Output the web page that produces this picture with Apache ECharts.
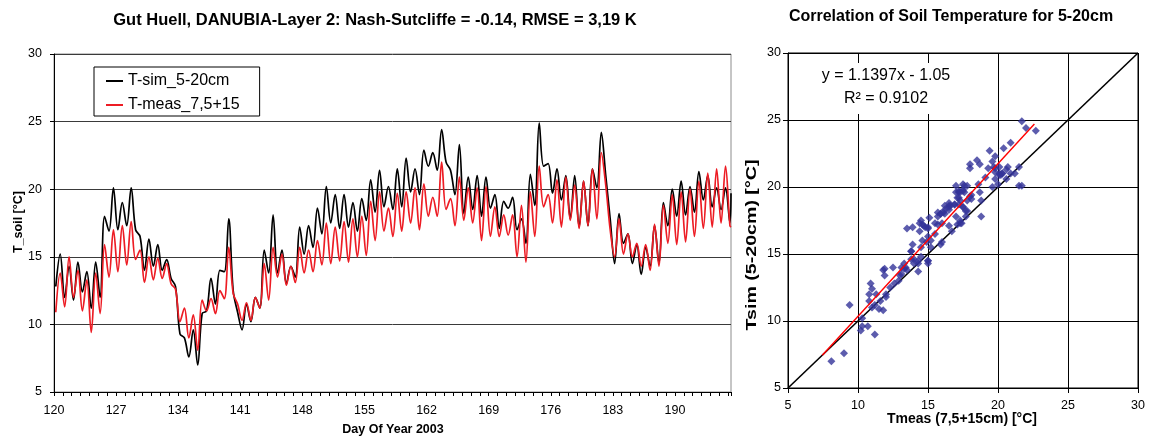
<!DOCTYPE html>
<html>
<head>
<meta charset="utf-8">
<title>Soil temperature Gut Huell 2003</title>
<script src="https://cdn.jsdelivr.net/npm/echarts@6/dist/echarts.min.js"></script>
<style>
  html, body { margin: 0; padding: 0; background: #fff; }
  #chart { width: 1150px; height: 438px; }
</style>
</head>
<body>
<div id="chart"></div>
<script>
// ---- data -------------------------------------------------------------
// Day-of-year axis, 2003
const firstDay = 120;
const lastDay = 196;
const axisEnd = 196.32;
const dayTicks = [120, 127, 134, 141, 148, 155, 162, 169, 176, 183, 190];

// Two readings per day: morning low (day + 0.2) and evening high (day + 0.7)
// Simulated soil temperature, 5-20 cm [°C]
const tSim = [
  12.8, 15.2, 12.0, 14.3, 11.8, 14.6, 12.4, 13.9, 11.2, 14.6, 12.0, 18.0, 16.9, 20.1,   // 120-126
  17.0, 19.0, 17.3, 20.1, 17.0, 16.5, 14.0, 16.3, 14.3, 15.9, 14.0, 14.8, 13.4, 12.8,   // 127-133
  9.3, 9.0, 7.6, 9.6, 7.0, 10.8, 11.0, 13.4, 11.5, 14.0, 13.9, 17.8, 12.5, 10.9,        // 134-140
  9.6, 11.5, 10.2, 12.0, 11.2, 15.5, 13.8, 18.1, 13.8, 15.5, 13.0, 14.3, 13.5, 17.2,    // 141-147
  15.2, 17.3, 15.7, 18.6, 16.7, 20.2, 17.5, 19.6, 17.1, 19.6, 17.2, 19.0, 16.9, 19.3,   // 148-154
  17.7, 20.7, 18.3, 21.4, 18.7, 20.2, 18.5, 21.5, 18.7, 22.3, 19.8, 21.5, 19.6, 22.9,   // 155-161
  21.7, 22.7, 21.4, 24.4, 22.0, 21.4, 19.6, 23.3, 18.2, 20.9, 18.5, 21.0, 18.0, 20.9,   // 162-168
  18.6, 19.6, 17.1, 19.1, 18.6, 19.4, 17.0, 17.8, 16.0, 21.1, 18.8, 24.9, 21.7, 21.9,   // 169-175
  19.7, 21.5, 19.2, 21.0, 17.8, 21.0, 17.2, 20.6, 17.3, 21.5, 20.1, 24.2, 21.0, 17.8,   // 176-182
  14.5, 18.2, 16.0, 16.7, 14.5, 15.9, 13.7, 15.7, 14.3, 17.3, 14.5, 19.0, 17.3, 20.0,   // 183-189
  18.0, 20.6, 18.1, 20.2, 18.3, 21.3, 19.2, 21.0, 18.7, 20.1, 18.5, 20.1, 17.5, 19.7    // 190-196
];
// Measured soil temperature, mean of 7.5 and 15 cm [°C]
const tMeas = [
  10.9, 13.8, 11.3, 15.0, 12.0, 14.0, 11.0, 13.3, 9.4, 13.8, 10.8, 15.9, 13.5, 17.0,    // 120-126
  13.9, 17.3, 14.4, 17.6, 14.8, 15.5, 13.1, 15.0, 13.3, 14.9, 13.4, 14.5, 13.0, 12.6,   // 127-133
  10.2, 11.2, 9.0, 10.7, 8.1, 11.8, 11.0, 11.9, 10.8, 12.5, 11.9, 15.7, 12.3, 11.5,     // 134-140
  10.3, 11.6, 10.3, 12.0, 11.2, 14.5, 11.8, 15.7, 13.5, 15.2, 12.9, 14.3, 13.1, 15.7,   // 141-147
  13.8, 15.5, 13.9, 16.2, 14.4, 17.5, 14.5, 17.2, 14.7, 17.6, 14.6, 17.8, 15.0, 18.0,   // 148-154
  15.1, 19.1, 16.2, 19.8, 16.9, 18.6, 16.5, 19.7, 16.9, 19.8, 17.5, 20.1, 17.0, 20.4,   // 155-161
  18.0, 19.4, 18.0, 22.0, 18.5, 19.3, 17.3, 20.9, 17.7, 20.1, 17.5, 20.1, 16.2, 20.2,   // 162-168
  16.5, 18.7, 16.5, 18.1, 16.6, 18.1, 15.0, 18.8, 14.6, 19.8, 16.5, 21.7, 18.7, 19.6,   // 169-175
  17.5, 20.7, 17.2, 20.9, 17.7, 20.3, 17.1, 20.6, 17.3, 21.5, 17.8, 22.7, 20.3, 17.0,   // 176-182
  15.0, 17.8, 15.2, 16.7, 15.0, 16.0, 14.3, 15.9, 14.0, 17.4, 14.3, 18.8, 16.0, 19.6,   // 183-189
  15.9, 19.8, 16.1, 20.0, 16.5, 20.6, 17.1, 21.2, 17.2, 21.5, 17.5, 21.7, 17.3, 17.2    // 190-196
];

// Linear fit of Tsim against Tmeas
const fitSlope = 1.1397;
const fitIntercept = -1.05;
const fitR2 = 0.9102;
const fitRange = [7.45, 22.6];
const oneToOne = [5, 30];
const tempTicks = [5, 10, 15, 20, 25, 30];

// ---- derived series ----------------------------------------------------
const sampleTimes = [];
for (let d = firstDay; d <= lastDay; d++) sampleTimes.push(d + 0.2, d + 0.7);
sampleTimes[sampleTimes.length - 1] = axisEnd;   // last reading sits on the right edge

const simLine = tSim.map((v, i) => [sampleTimes[i], v]);
const measLine = tMeas.map((v, i) => [sampleTimes[i], v]);
const pairs = tMeas.map((m, i) => [m, tSim[i]]);
const fitLine = fitRange.map(x => [x, fitSlope * x + fitIntercept]);
const diagLine = oneToOne.map(v => [v, v]);

const fmt = n => String(n);
const fitText = 'y = ' + fmt(fitSlope) + 'x ' + (fitIntercept < 0 ? '- ' : '+ ') + fmt(Math.abs(fitIntercept));
const r2Text = 'R\u00B2 = ' + fmt(fitR2);

// ---- chart -------------------------------------------------------------
const FONT = '"Liberation Sans", Arial, Helvetica, sans-serif';
const chart = echarts.init(document.getElementById('chart'), null, { renderer: 'canvas' });

const tempAxis = (gridIndex, color, labelMargin, tickLen) => ({
  type: 'value', gridIndex, min: tempTicks[0], max: tempTicks[tempTicks.length - 1], interval: 5,
  axisLine: { show: true, onZero: false, lineStyle: { color: '#000', width: 1 } },
  axisTick: { show: true, length: tickLen, lineStyle: { color: '#000' } },
  axisLabel: { color: '#000', fontFamily: FONT, fontSize: 12.5, margin: labelMargin },
  splitLine: { show: true, lineStyle: { color, width: 1 } }
});

chart.setOption({
  animation: false,
  backgroundColor: '#fff',
  grid: [
    { left: 54, top: 54, width: 677, height: 338, show: true, borderColor: '#8c8c8c', borderWidth: 1, backgroundColor: 'transparent' },
    { left: 788, top: 53, width: 350, height: 335, show: true, borderColor: '#000', borderWidth: 1, backgroundColor: 'transparent' }
  ],
  legend: {
    orient: 'vertical', left: 94, top: 67,
    padding: [6, 20, 3, 12], itemGap: 8, itemWidth: 17, itemHeight: 2,
    icon: 'rect', backgroundColor: '#fff', borderColor: '#000', borderWidth: 1,
    textStyle: { fontFamily: FONT, fontSize: 16, color: '#000' },
    data: ['T-sim_5-20cm', 'T-meas_7,5+15']
  },
  xAxis: [
    {
      type: 'value', gridIndex: 0, min: firstDay, max: axisEnd, interval: 7,
      axisLine: { show: true, onZero: false, lineStyle: { color: '#000' } },
      axisTick: { show: true, length: 4, lineStyle: { color: '#000' } },
      minorTick: { show: true, splitNumber: 7, length: 4, lineStyle: { color: '#000' } },
      axisLabel: {
        color: '#000', fontFamily: FONT, fontSize: 12.5, margin: 12, showMaxLabel: false,
        formatter: v => (dayTicks.indexOf(v) >= 0 ? String(v) : '')
      },
      splitLine: { show: false }
    },
    tempAxis(1, '#000', 11, 5)
  ],
  yAxis: [
    tempAxis(0, '#3a3a3a', 12, 4),
    tempAxis(1, '#000', 7, 5)
  ],
  series: [
    {
      name: 'T-sim_5-20cm', type: 'line', xAxisIndex: 0, yAxisIndex: 0,
      data: simLine, smooth: 0.35, showSymbol: false, symbol: 'none',
      lineStyle: { color: '#000', width: 1.7 }, itemStyle: { color: '#000' }, z: 3
    },
    {
      name: 'T-meas_7,5+15', type: 'line', xAxisIndex: 0, yAxisIndex: 0,
      data: measLine, smooth: 0.35, showSymbol: false, symbol: 'none',
      lineStyle: { color: '#ed1c24', width: 1.7 }, itemStyle: { color: '#ed1c24' }, z: 4
    },
    {
      name: '1:1', type: 'line', xAxisIndex: 1, yAxisIndex: 1,
      data: diagLine, showSymbol: false, symbol: 'none',
      lineStyle: { color: '#000', width: 1.6 }, z: 2
    },
    {
      name: 'Tsim vs Tmeas', type: 'scatter', xAxisIndex: 1, yAxisIndex: 1,
      data: pairs, symbol: 'diamond', symbolSize: 8,
      itemStyle: { color: '#333399' }, z: 3
    },
    {
      name: 'fit', type: 'line', xAxisIndex: 1, yAxisIndex: 1,
      data: fitLine, showSymbol: false, symbol: 'none',
      lineStyle: { color: '#ff0000', width: 1.4 }, z: 4
    }
  ],
  graphic: [
    { type: 'text', x: 375, y: 20, z: 20, style: { text: 'Gut Huell, DANUBIA-Layer 2: Nash-Sutcliffe = -0.14, RMSE = 3,19 K', font: 'bold 16.5px ' + FONT, fill: '#000', align: 'center', verticalAlign: 'middle' } },
    { type: 'text', x: 951, y: 17, z: 20, style: { text: 'Correlation of Soil Temperature for 5-20cm', font: 'bold 16px ' + FONT, fill: '#000', align: 'center', verticalAlign: 'middle' } },
    { type: 'text', x: 19, y: 222, rotation: Math.PI / 2, z: 20, style: { text: 'T_soil [°C]', font: 'bold 12.5px ' + FONT, fill: '#000', align: 'center', verticalAlign: 'middle' } },
    { type: 'text', x: 393, y: 430, z: 20, style: { text: 'Day Of Year 2003', font: 'bold 12.5px ' + FONT, fill: '#000', align: 'center', verticalAlign: 'middle' } },
    { type: 'text', x: 752, y: 245, rotation: Math.PI / 2, scaleX: 1.4, z: 20, style: { text: 'Tsim (5-20cm) [°C]', font: 'bold 14px ' + FONT, fill: '#000', align: 'center', verticalAlign: 'middle' } },
    { type: 'text', x: 962, y: 419, z: 20, style: { text: 'Tmeas (7,5+15cm) [°C]', font: 'bold 14px ' + FONT, fill: '#000', align: 'center', verticalAlign: 'middle' } },
    { type: 'rect', z: 10, shape: { x: 815, y: 63, width: 143, height: 51 }, style: { fill: '#fff' } },
    { type: 'text', x: 886, y: 76, z: 11, style: { text: fitText, font: '16px ' + FONT, fill: '#000', align: 'center', verticalAlign: 'middle' } },
    { type: 'text', x: 886, y: 99, z: 11, style: { text: r2Text, font: '16px ' + FONT, fill: '#000', align: 'center', verticalAlign: 'middle' } }
  ]
});
</script>
</body>
</html>
